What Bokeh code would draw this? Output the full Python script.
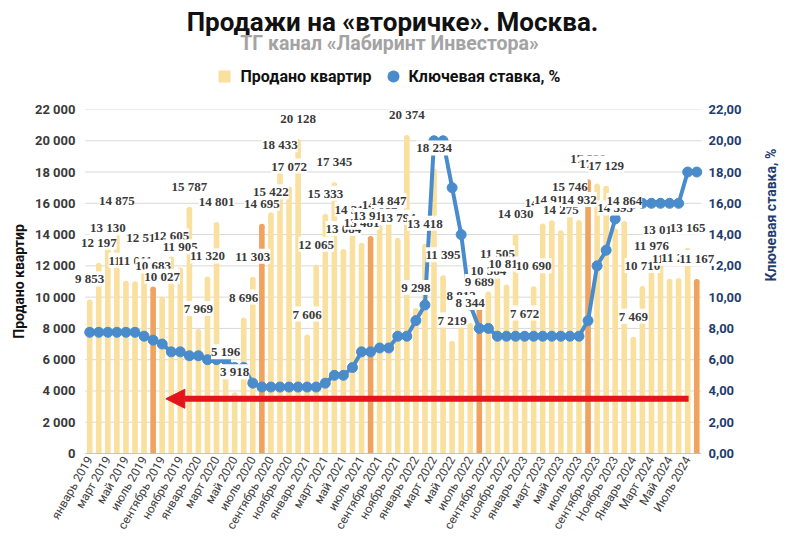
import math
from bokeh.plotting import figure
from bokeh.layouts import column
from bokeh.models import (ColumnDataSource, Range1d, LinearAxis, FixedTicker, LabelSet,
                          Label, Arrow, NormalHead)
from bokeh.transform import dodge
from bokeh.embed import file_html
from bokeh.resources import INLINE

# ---------------- data ----------------
months = ["январь 2019", "февраль 2019", "март 2019", "апрель 2019", "май 2019", "июнь 2019",
          "июль 2019", "август 2019", "сентябрь 2019", "октябрь 2019", "ноябрь 2019", "декабрь 2019",
          "январь 2020", "февраль 2020", "март 2020", "апрель 2020", "май 2020", "июнь 2020",
          "июль 2020", "август 2020", "сентябрь 2020", "октябрь 2020", "ноябрь 2020", "декабрь 2020",
          "январь 2021", "февраль 2021", "март 2021", "апрель 2021", "май 2021", "июнь 2021",
          "июль 2021", "август 2021", "сентябрь 2021", "октябрь 2021", "ноябрь 2021", "декабрь 2021",
          "январь 2022", "февраль 2022", "март 2022", "апрель 2022", "май 2022", "июнь 2022",
          "июль 2022", "август 2022", "сентябрь 2022", "октябрь 2022", "ноябрь 2022", "декабрь 2022",
          "январь 2023", "февраль 2023", "март 2023", "апрель 2023", "май 2023", "июнь 2023",
          "июль 2023", "август 2023", "сентябрь 2023", "октябрь 2023", "Ноябрь 2023", "Декабрь 2023",
          "Январь 2024", "Февраль 2024", "Март 2024", "Апрель 2024", "Май 2024", "Июнь 2024",
          "Июль 2024", "Август 2024"]

sales = [9853, 12197, 13130, 14875, 11046, 11011, 12514, 10683, 10027, 12605, 11905, 15787,
         7969, 11320, 14801, 5196, 3918, 8696, 11303, 14695, 15422, 18433, 17072, 20128,
         7606, 12065, 15333, 17345, 13084, 14318, 13481, 13912, 14612, 14847, 13794, 20374,
         9298, 13418, 18234, 11395, 7219, 8812, 8344, 9689, 10364, 11505, 10810, 14030,
         7672, 10690, 14715, 14914, 14275, 15746, 14932, 17538, 17263, 17129, 14393, 14864,
         7469, 10710, 11976, 13018, 11182, 11216, 13165, 11167]

key_rate = [7.75, 7.75, 7.75, 7.75, 7.75, 7.75, 7.5, 7.25, 7.0, 6.5, 6.5, 6.25,
            6.25, 6.0, 6.0, 6.0, 5.5, 5.5, 4.5, 4.25, 4.25, 4.25, 4.25, 4.25,
            4.25, 4.25, 4.5, 5.0, 5.0, 5.5, 6.5, 6.5, 6.75, 6.75, 7.5, 7.5,
            8.5, 9.5, 20.0, 20.0, 17.0, 14.0, 9.5, 8.0, 8.0, 7.5, 7.5, 7.5,
            7.5, 7.5, 7.5, 7.5, 7.5, 7.5, 7.5, 8.5, 12.0, 13.0, 15.0, 16.0,
            16.0, 16.0, 16.0, 16.0, 16.0, 16.0, 18.0, 18.0]

highlighted_months = ["август 2019", "август 2020", "август 2021", "август 2022",
                      "август 2023", "Август 2024"]

left_ticks = [0, 2000, 4000, 6000, 8000, 10000, 12000, 14000, 16000, 18000, 20000, 22000]
right_ticks = [0, 2, 4, 6, 8, 10, 12, 14, 16, 18, 20, 22]

series_names = ["Продано квартир", "Ключевая ставка, %"]

# red arrow annotation: from month index to month index at key-rate level
arrow_from_month = 66.1
arrow_to_month = 8.4
arrow_rate_level = 3.5

# ---------------- style ----------------
FONT = "Roboto"
BAR = "#FAE09E"
BAR_HI = "#F0A35E"
BLUE = "#4A8CCB"
NAVY = "#1F3D6E"
TXT = "#3A3A3A"
RED = "#E5131B"

W = 800
HEAD_H = 96
MAIN_H = 552 - HEAD_H
FL, FR = 72, 718            # frame edges (px)
FT = 109 - HEAD_H           # frame top inside main figure
FRAME_H = 344
X0, X1 = -1.9, 69.4         # x range (month index)
CAT0, CAT1 = -0.5, len(months) - 0.5
BAR_W = 0.62                                    # in category units
px_per_cat = (FR - FL) / (X1 - X0)
bar_px = BAR_W * px_per_cat
cap_r = (bar_px / 2) * (left_ticks[-1] - left_ticks[0]) / FRAME_H   # rounded-top radius in data units

idx = list(range(len(months)))
colors = [BAR_HI if m in highlighted_months else BAR for m in months]
labels = [f"{v:,}".replace(",", " ") for v in sales]
src = ColumnDataSource(dict(x=idx, sales=sales, rate=key_rate, color=colors, label=labels))

# ---------------- header (titles + legend), pixel space ----------------
head = figure(width=W, height=HEAD_H, output_backend="svg", toolbar_location=None,
              x_range=Range1d(0, W), y_range=Range1d(HEAD_H, 0),
              x_axis_location=None, y_axis_location=None, frame_align=False,
              min_border_left=0, min_border_right=0, min_border_top=0, min_border_bottom=0)
head.title_location = None
head.outline_line_color = None
head.xgrid.grid_line_color = None
head.ygrid.grid_line_color = None

head.add_layout(Label(x=392, y=21, text="Продажи на «вторичке». Москва.",
                      text_align="center", text_baseline="middle", text_font=FONT,
                      text_font_size="26px", text_font_style="bold", text_color="#111111"))
head.add_layout(Label(x=389, y=43, text="ТГ канал «Лабиринт Инвестора»",
                      text_align="center", text_baseline="middle", text_font=FONT,
                      text_font_size="19.5px", text_font_style="bold", text_color="#A3A3A3"))

# legend keys
head.rect(x=[224], y=[76], width=12, height=12, fill_color=BAR, line_color=None)
head.ellipse(x=[393], y=[76], width=12, height=12, fill_color=BLUE, line_color=None)
head.add_layout(Label(x=240, y=76, text=series_names[0], text_align="left",
                      text_baseline="middle", text_font=FONT, text_font_size="16px",
                      text_font_style="bold", text_color="#111111"))
head.add_layout(Label(x=408, y=76, text=series_names[1], text_align="left",
                      text_baseline="middle", text_font=FONT, text_font_size="16px",
                      text_font_style="bold", text_color="#111111"))

# ---------------- main chart ----------------
p = figure(width=W, height=MAIN_H, output_backend="svg", toolbar_location=None,
           x_range=Range1d(X0, X1), y_range=Range1d(left_ticks[0], left_ticks[-1]),
           frame_align=False,
           min_border_left=FL, min_border_right=W - FR, min_border_top=FT,
           min_border_bottom=MAIN_H - FT - FRAME_H)
p.title_location = None
p.extra_y_ranges = {"rate": Range1d(right_ticks[0], right_ticks[-1])}
p.outline_line_color = None
p.xgrid.grid_line_color = None
p.ygrid.grid_line_color = None

# horizontal gridlines spanning the category area only
grid_src = ColumnDataSource(dict(y=left_ticks[1:], x0=[CAT0] * (len(left_ticks) - 1),
                                 x1=[CAT1] * (len(left_ticks) - 1)))
p.segment(x0="x0", x1="x1", y0="y", y1="y", source=grid_src, line_color="#D9D9D9", line_width=1)

# bars with rounded tops
p.vbar(x="x", top=dodge("sales", -cap_r, range=p.y_range), width=BAR_W, source=src,
       fill_color="color", line_color=None)
p.scatter(x="x", y=dodge("sales", -cap_r, range=p.y_range), size=bar_px, source=src,
          marker="circle", fill_color="color", line_color=None)
p.segment(x0=[CAT0], x1=[CAT1], y0=[left_ticks[0]], y1=[left_ticks[0]],
          line_color="#8C8C8C", line_width=1)

# key rate line
p.line(x="x", y="rate", source=src, y_range_name="rate", line_color=BLUE, line_width=4)
p.scatter(x="x", y="rate", source=src, y_range_name="rate", size=10,
          fill_color=BLUE, line_color=BLUE)

# left axis
ya = p.yaxis[0]
ya.ticker = FixedTicker(ticks=left_ticks)
ya.major_label_overrides = {t: (f"{t:,}".replace(",", " ")) for t in left_ticks}
ya.axis_line_color = None
ya.major_tick_line_color = None
ya.minor_tick_line_color = None
ya.major_tick_out = 0
ya.major_label_standoff = -3
ya.major_label_text_font = FONT
ya.major_label_text_font_size = "13px"
ya.major_label_text_font_style = "bold"
ya.major_label_text_color = TXT
ya.axis_label = series_names[0]
ya.axis_label_standoff = 5
ya.axis_label_text_font = FONT
ya.axis_label_text_font_size = "14px"
ya.axis_label_text_font_style = "bold"
ya.axis_label_text_color = "#111111"

# right axis
ra = LinearAxis(y_range_name="rate", ticker=FixedTicker(ticks=right_ticks))
ra.major_label_overrides = {t: f"{t:.2f}".replace(".", ",") for t in right_ticks}
ra.axis_line_color = None
ra.major_tick_line_color = None
ra.minor_tick_line_color = None
ra.major_tick_out = 0
ra.major_label_standoff = -10
ra.major_label_text_font = FONT
ra.major_label_text_font_size = "13px"
ra.major_label_text_font_style = "bold"
ra.major_label_text_color = NAVY
ra.axis_label = series_names[1]
ra.axis_label_standoff = 26
ra.axis_label_text_font = FONT
ra.axis_label_text_font_size = "14px"
ra.axis_label_text_font_style = "bold"
ra.axis_label_text_color = NAVY
if "axis_label_orientation" in ra.properties():
    ra.axis_label_orientation = math.pi / 2
p.add_layout(ra, "right")

# bottom axis
xa = p.xaxis[0]
even = idx[::2]
xa.ticker = FixedTicker(ticks=even)
xa.major_label_overrides = {i: months[i] for i in even}
xa.major_label_orientation = math.pi / 3
xa.major_label_text_font = FONT
xa.major_label_text_font_size = "12px"
xa.major_label_text_color = "#404040"
xa.major_label_standoff = 4
xa.axis_line_color = None
xa.major_tick_line_color = None
xa.minor_tick_line_color = None
xa.major_tick_out = 0

# red arrow
p.add_layout(Arrow(end=NormalHead(size=19, fill_color=RED, line_color=RED),
                   x_start=arrow_from_month, x_end=arrow_to_month,
                   y_start=arrow_rate_level, y_end=arrow_rate_level, y_range_name="rate",
                   line_color=RED, line_width=6))

# data labels (white boxes, like the original)
p.add_layout(LabelSet(x="x", y="sales", text="label", source=src, y_offset=13,
                      text_align="center", text_baseline="bottom",
                      text_font=FONT, text_font_size="13px", text_font_style="bold",
                      text_color=TXT, background_fill_color="white"))

layout = column(head, p, spacing=0)
open("out.html", "w").write(file_html(layout, INLINE))
